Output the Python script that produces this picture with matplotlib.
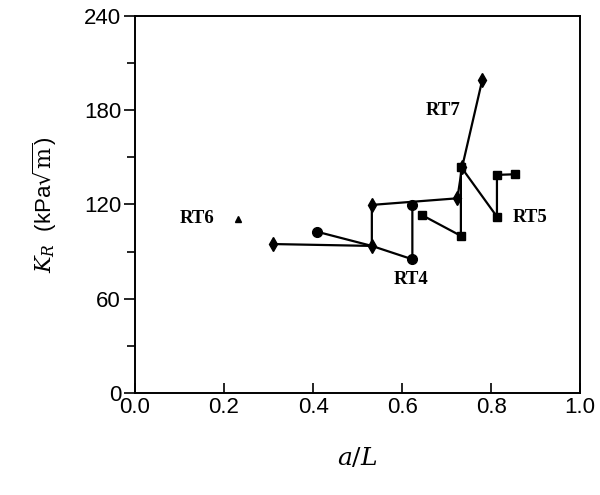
import matplotlib.pyplot as plt
from matplotlib.ticker import MultipleLocator

# RT7 (diamonds)
rt7_x = [0.309, 0.532, 0.532, 0.724, 0.735, 0.780]
rt7_y = [94.8, 93.6, 119.7, 123.9, 144.0, 199.2]

# RT4 (circles)
rt4_x = [0.408, 0.532, 0.623, 0.623]
rt4_y = [102.7, 93.6, 85.1, 119.7]

# RT5 (squares)
rt5_x = [0.644, 0.732, 0.732, 0.813, 0.813, 0.854]
rt5_y = [113.3, 100.0, 144.0, 112.2, 138.8, 139.2]

# RT6 (single triangle)
rt6_x = [0.232]
rt6_y = [110.8]

labels = ["RT7", "RT4", "RT5", "RT6"]
label_x = [0.692, 0.620, 0.848, 0.100]
label_y = [180, 72, 112, 111]
label_ha = ["center", "center", "left", "left"]

plt.rcParams["font.family"] = ["Liberation Sans", "DejaVu Sans"]

fig = plt.figure(figsize=(6, 4.95), dpi=100)
ax = fig.add_axes([0.225, 0.206, 0.742, 0.762])

ax.plot(rt7_x, rt7_y, "k-", lw=1.6, marker="d", ms=7)
ax.plot(rt4_x[:1] + rt4_x[2:], rt4_y[:1] + rt4_y[2:], "ko", ms=7)
ax.plot(rt4_x, rt4_y, "k-", lw=1.6)
ax.plot(rt5_x, rt5_y, "k-", lw=1.6, marker="s", ms=6)
ax.plot(rt6_x, rt6_y, "k^", ms=5)

for t, x, y, ha in zip(labels, label_x, label_y, label_ha):
    ax.text(x, y, t, ha=ha, va="center", fontsize=13.5, fontweight="bold",
            family="Liberation Serif")

ax.set_xlim(0, 1.0)
ax.set_ylim(0, 240)
ax.set_xticks([0.0, 0.2, 0.4, 0.6, 0.8, 1.0])
ax.set_xticklabels(["0.0", "0.2", "0.4", "0.6", "0.8", "1.0"])
ax.set_yticks([0, 60, 120, 180, 240])
ax.yaxis.set_minor_locator(MultipleLocator(30))
ax.tick_params(axis="x", direction="in", length=7, width=1.2, pad=3, labelsize=16)
ax.tick_params(axis="y", which="major", direction="out", length=8, width=1.2, pad=2, labelsize=16)
ax.tick_params(axis="y", which="minor", direction="out", length=6, width=1.2)
for s in ax.spines.values():
    s.set_linewidth(1.4)

ax.set_xlabel("$a/L$", fontsize=18, labelpad=20, math_fontfamily="dejavuserif")
ax.set_ylabel(r"$K_R$  (kPa$\sqrt{\mathrm{m}}$)", fontsize=16, labelpad=18,
              math_fontfamily="dejavuserif")

fig.savefig("out.png", dpi=100)
